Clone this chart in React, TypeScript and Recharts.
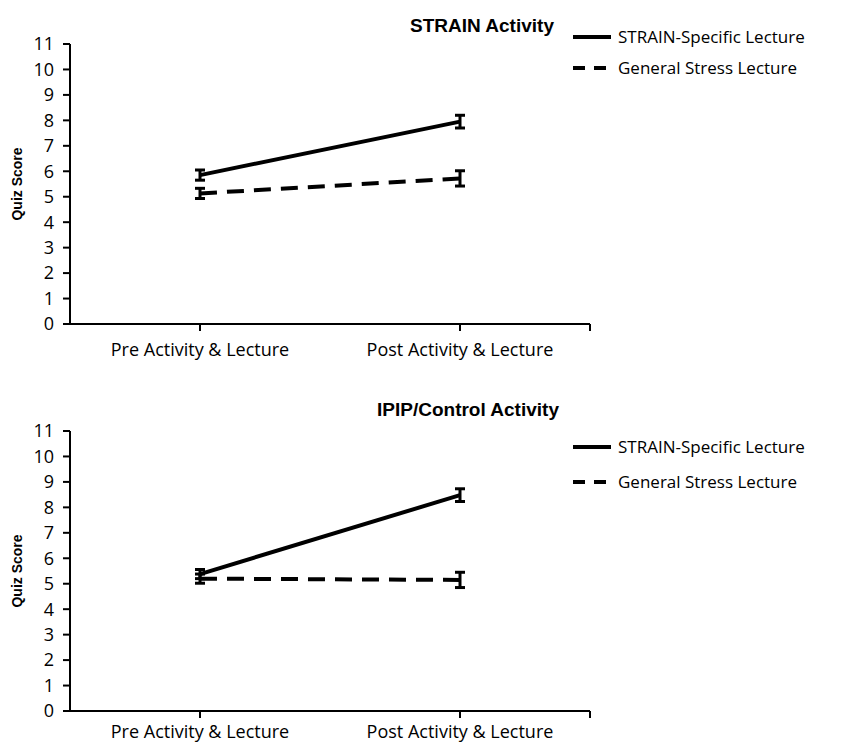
import React from "react";
import { LineChart, Line, XAxis, YAxis, ErrorBar, Label } from "recharts";

const categories = ["Pre Activity & Lecture", "Post Activity & Lecture"];
const seriesNames = ["STRAIN-Specific Lecture", "General Stress Lecture"];
const yTicks = [0, 1, 2, 3, 4, 5, 6, 7, 8, 9, 10, 11];

const strainActivitySpecific = [5.85, 7.95];
const strainActivitySpecificErr = [0.2, 0.25];
const strainActivityGeneral = [5.13, 5.72];
const strainActivityGeneralErr = [0.2, 0.3];

const controlActivitySpecific = [5.38, 8.48];
const controlActivitySpecificErr = [0.18, 0.25];
const controlActivityGeneral = [5.2, 5.15];
const controlActivityGeneralErr = [0.18, 0.3];

const FONT = "'Liberation Sans', Arial, sans-serif";
const TICKFONT = "'Open Sans', 'Liberation Sans', sans-serif";

function buildData(spec: number[], specErr: number[], gen: number[], genErr: number[]) {
  return categories.map((c, i) => ({
    x: i + 0.5,
    name: c,
    specific: spec[i],
    specificErr: specErr[i],
    general: gen[i],
    generalErr: genErr[i],
  }));
}

const LegendBlock = ({ top, gap }: { top: number; gap: number }) => (
  <div style={{ position: "absolute", left: 572, top, fontFamily: TICKFONT, fontSize: 17, color: "#000", zIndex: 2 }}>
    {seriesNames.map((n, i) => (
      <div key={n} style={{ display: "flex", alignItems: "center", height: gap, whiteSpace: "nowrap" }}>
        <svg width={40} height={10} style={{ marginRight: 6 }}>
          <line
            x1={1}
            x2={39}
            y1={5}
            y2={5}
            stroke="#000"
            strokeWidth={4}
            strokeDasharray={i === 1 ? "12 9" : undefined}
          />
        </svg>
        <span>{n}</span>
      </div>
    ))}
  </div>
);

function Panel({
  data,
  title,
  height,
  top,
  titleTop,
  titleCenter,
  legendTop,
  legendGap,
  tickMargin,
}: {
  data: any[];
  title: string;
  height: number;
  top: number;
  titleTop: number;
  titleCenter: number;
  legendTop: number;
  legendGap: number;
  tickMargin: number;
}) {
  return (
    <div style={{ position: "relative", width: 842, height }}>
      <div
        style={{
          position: "absolute",
          top: titleTop,
          left: titleCenter - 200,
          width: 400,
          textAlign: "center",
          fontFamily: FONT,
          fontWeight: "bold",
          fontSize: 19,
          color: "#000",
          zIndex: 2,
        }}
      >
        {title}
      </div>
      <LegendBlock top={legendTop} gap={legendGap} />
      <LineChart
        width={842}
        height={height}
        data={data}
        margin={{ top, right: 252, left: 20, bottom: height - top - 280 - 30 }}
      >
        <XAxis
          type="number"
          dataKey="x"
          domain={[0, 2]}
          ticks={[0.5, 1.5, 2]}
          tickFormatter={(v: number) => (v < 2 ? categories[Math.floor(v)] : "")}
          axisLine={{ stroke: "#000", strokeWidth: 2 }}
          tickLine={{ stroke: "#000", strokeWidth: 2 }}
          tickSize={7}
          tickMargin={tickMargin}
          height={30}
          interval={0}
          tick={{ fill: "#000", fontSize: 18, fontFamily: TICKFONT }}
        />
        <YAxis
          domain={[0, 11]}
          ticks={yTicks}
          interval={0}
          width={50}
          axisLine={{ stroke: "#000", strokeWidth: 2 }}
          tickLine={{ stroke: "#000", strokeWidth: 2 }}
          tickSize={7}
          tickMargin={9}
          tick={{ fill: "#000", fontSize: 18, fontFamily: TICKFONT }}
        >
          <Label
            value="Quiz Score"
            angle={-90}
            position="insideLeft"
            offset={-3}
            style={{ textAnchor: "middle", fontWeight: "bold", fontSize: 14, fontFamily: FONT, fill: "#000" }}
          />
        </YAxis>
        <Line
          dataKey="specific"
          name={seriesNames[0]}
          stroke="#000"
          strokeWidth={4}
          dot={false}
          isAnimationActive={false}
        >
          <ErrorBar dataKey="specificErr" width={5} stroke="#000" strokeWidth={3} />
        </Line>
        <Line
          dataKey="general"
          name={seriesNames[1]}
          stroke="#000"
          strokeWidth={4}
          strokeDasharray="17 10"
          dot={false}
          isAnimationActive={false}
        >
          <ErrorBar dataKey="generalErr" width={5} stroke="#000" strokeWidth={3} strokeDasharray="0" />
        </Line>
      </LineChart>
    </div>
  );
}

export default function App() {
  const top = buildData(strainActivitySpecific, strainActivitySpecificErr, strainActivityGeneral, strainActivityGeneralErr);
  const bottom = buildData(controlActivitySpecific, controlActivitySpecificErr, controlActivityGeneral, controlActivityGeneralErr);
  return (
    <div style={{ position: "absolute", left: 0, top: 0, width: 842, height: 746, background: "#fff" }}>
      <Panel data={top} title="STRAIN Activity" height={370} top={44} titleTop={15} titleCenter={482} legendTop={21} legendGap={31} tickMargin={12} />
      <Panel data={bottom} title="IPIP/Control Activity" height={376} top={61} titleTop={29} titleCenter={468} legendTop={59} legendGap={35} tickMargin={7} />
    </div>
  );
}
